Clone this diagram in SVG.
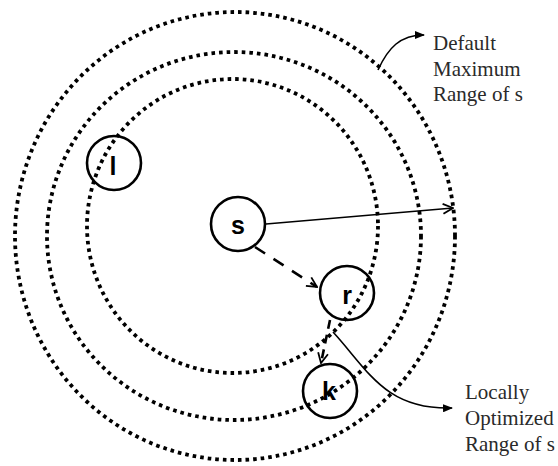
<svg xmlns="http://www.w3.org/2000/svg" width="558" height="466" viewBox="0 0 558 466">
<style>
.ring{fill:none;stroke:#000;stroke-width:3.8;stroke-dasharray:3.6 4}
.node{fill:none;stroke:#000;stroke-width:2.6}
.lbl{font-family:"Liberation Sans",Arial,sans-serif;font-weight:bold;font-size:25px;fill:#000;text-anchor:middle}
.note{font-size:21px;fill:#2a2a2a}
.conn{fill:none;stroke:#000}
</style>
<defs>
<marker id="open" viewBox="0 0 12 12" refX="11" refY="6" markerWidth="12" markerHeight="12" orient="auto" markerUnits="userSpaceOnUse">
<path d="M1,1 L11,6 L1,11" fill="none" stroke="#000" stroke-width="1.8" stroke-dasharray="none"/>
</marker>
<marker id="solid" viewBox="0 0 10 8" refX="9" refY="4" markerWidth="10" markerHeight="8" orient="auto" markerUnits="userSpaceOnUse">
<path d="M0,0 L10,4 L0,8 Z" fill="#000"/>
</marker>
</defs>
<rect width="558" height="466" fill="#fff"/>
<g id="ranges">
<ellipse class="ring" cx="235" cy="236" rx="220" ry="224"/>
<ellipse class="ring" cx="234" cy="236" rx="187" ry="184"/>
<ellipse class="ring" cx="232.5" cy="226" rx="145.5" ry="147"/>
</g>
<g id="connectors">
<line class="conn" x1="266" y1="224" x2="453" y2="208" stroke-width="1.6" marker-end="url(#open)"/>
<line class="conn" x1="255" y1="247" x2="317" y2="287" stroke-width="2.6" stroke-dasharray="12 10" marker-end="url(#open)"/>
<line class="conn" x1="330" y1="320" x2="321" y2="363" stroke-width="2.6" stroke-dasharray="9 6" marker-end="url(#open)"/>
<path class="conn" d="M333,332 C368,370 385,410 452,408" stroke-width="1.6" marker-end="url(#solid)"/>
<path class="conn" d="M378,70 C388,48 400,35 424,35" stroke-width="1.6" marker-end="url(#solid)"/>
</g>
<g id="node-s"><circle class="node" cx="238" cy="224" r="27"/><text class="lbl" x="238" y="234">s</text></g>
<g id="node-r"><circle class="node" cx="347" cy="293" r="27"/><text class="lbl" x="347" y="304">r</text></g>
<g id="node-k"><circle class="node" cx="330" cy="391" r="27"/><text class="lbl" x="329" y="400">k</text></g>
<g id="node-l"><circle class="node" cx="114" cy="163" r="27"/><text class="lbl" x="113" y="175">l</text></g>
<g id="label-default" font-family="Liberation Serif, serif">
<text class="note" x="433" y="50">Default</text>
<text class="note" x="433" y="76">Maximum</text>
<text class="note" x="433" y="101">Range of s</text>
</g>
<g id="label-local" font-family="Liberation Serif, serif">
<text class="note" x="465" y="399">Locally</text>
<text class="note" x="465" y="425">Optimized</text>
<text class="note" x="465" y="451">Range of s</text>
</g>
</svg>
